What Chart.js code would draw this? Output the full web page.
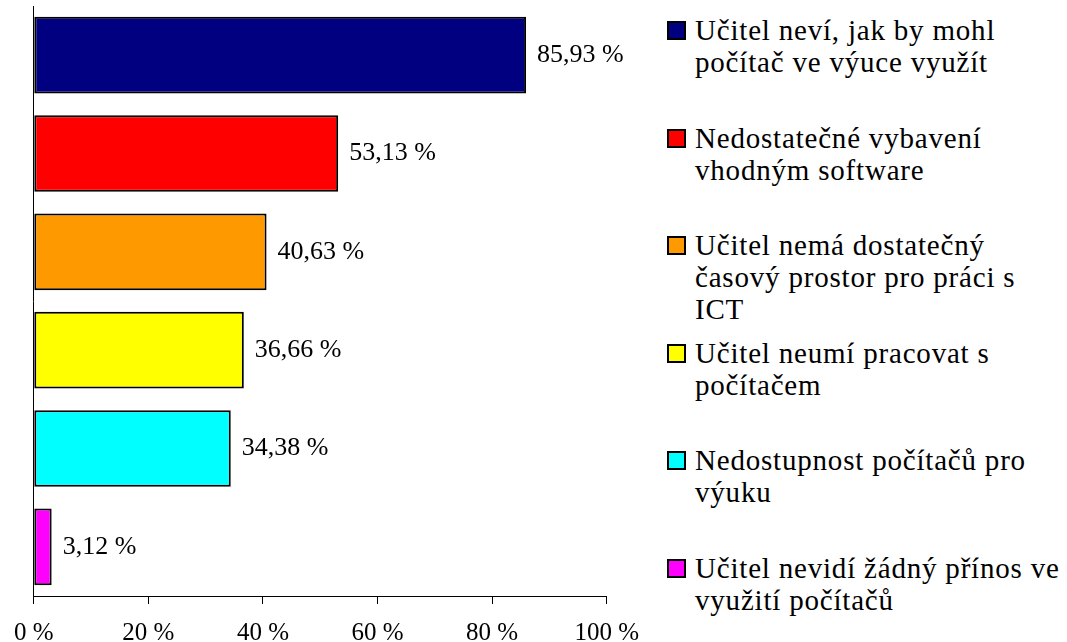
<!DOCTYPE html>
<html lang="cs">
  <head>
    <meta charset="UTF-8" />
    <title>Překážky využití ICT ve výuce</title>
    <script src="https://cdn.jsdelivr.net/npm/chart.js"></script>
    <style>
      html, body {
        margin: 0;
        padding: 0;
        background: #fff;
        font-family: 'Liberation Serif', 'Times New Roman', serif;
        color: #000;
      }
      .wrap {
        position: relative;
        width: 1067px;
        height: 642px;
        overflow: hidden;
      }
      .chart-box {
        position: absolute;
        left: 0;
        top: 0;
        width: 653px;
        height: 642px;
      }
      #legend {
        position: absolute;
        left: 667px;
        top: 14px;
        margin: 0;
        padding: 0;
        list-style: none;
      }
      #legend li {
        display: flex;
        align-items: flex-start;
        height: 107.6px;
        font-size: 29px;
        line-height: 32px;
        letter-spacing: 0.8px;
        white-space: nowrap;
      }
      #legend .swatch {
        box-sizing: border-box;
        width: 19px;
        height: 19px;
        border: 2px solid #000;
        margin-top: 7px;
        margin-right: 9px;
        flex: none;
      }
    </style>
  </head>
  <body>
    <div class="wrap">
      <div class="chart-box"><canvas id="reasons"></canvas></div>
      <ul id="legend"></ul>
    </div>

    <script>
      // categories (legend lines kept as in the original)
      const reasons = [
        ['Učitel neví, jak by mohl', 'počítač ve výuce využít'],
        ['Nedostatečné vybavení', 'vhodným software'],
        ['Učitel nemá dostatečný', 'časový prostor pro práci s', 'ICT'],
        ['Učitel neumí pracovat s', 'počítačem'],
        ['Nedostupnost počítačů pro', 'výuku'],
        ['Učitel nevidí žádný přínos ve', 'využití počítačů']
      ];
      const shares = [85.93, 53.13, 40.63, 36.66, 34.38, 3.12];
      const barColors = ['#000080', '#ff0000', '#ff9900', '#ffff00', '#00ffff', '#ff00ff'];
      const xTicks = [0, 20, 40, 60, 80, 100];

      const fmt = v => v.toFixed(2).replace('.', ',') + ' %';

      // value labels next to the bars
      const valueLabels = {
        id: 'valueLabels',
        afterDatasetsDraw(chart) {
          const ctx = chart.ctx;
          const meta = chart.getDatasetMeta(0);
          ctx.save();
          ctx.font = '26px "Liberation Serif", serif';
          ctx.fillStyle = '#000';
          ctx.textBaseline = 'middle';
          ctx.textAlign = 'left';
          meta.data.forEach((bar, i) => {
            ctx.fillText(fmt(shares[i]), bar.x + 11, bar.y);
          });
          ctx.restore();
        }
      };

      new Chart(document.getElementById('reasons'), {
        type: 'bar',
        data: {
          labels: reasons.map(r => r.join(' ')),
          datasets: [{
            data: shares,
            backgroundColor: barColors,
            borderColor: '#000',
            borderWidth: 2,
            borderSkipped: false,
            barPercentage: 0.78,
            categoryPercentage: 1
          }]
        },
        options: {
          indexAxis: 'y',
          responsive: true,
          maintainAspectRatio: false,
          animation: false,
          layout: { padding: { top: 6, right: 20, left: 0, bottom: 0 } },
          plugins: {
            legend: { display: false },
            tooltip: { enabled: false }
          },
          scales: {
            x: {
              min: 0,
              max: 100,
              afterBuildTicks: s => { s.ticks = xTicks.map(v => ({ value: v })); },
              afterFit: s => { s.height = 46; },
              grid: {
                drawOnChartArea: false,
                drawTicks: true,
                tickLength: 8,
                color: '#000'
              },
              border: { color: '#000', width: 1 },
              ticks: {
                color: '#000',
                padding: 14,
                maxRotation: 0,
                font: { family: 'Liberation Serif', size: 25 },
                callback: v => v + ' %'
              }
            },
            y: {
              afterFit: s => { s.width = 33; },
              grid: { display: false },
              border: { color: '#000', width: 1 },
              ticks: { display: false }
            }
          }
        },
        plugins: [valueLabels]
      });

      // legend on the right
      const legend = document.getElementById('legend');
      reasons.forEach((lines, i) => {
        const li = document.createElement('li');
        const sw = document.createElement('span');
        sw.className = 'swatch';
        sw.style.background = barColors[i];
        const txt = document.createElement('span');
        txt.innerHTML = lines.join('<br>');
        li.appendChild(sw);
        li.appendChild(txt);
        legend.appendChild(li);
      });
    </script>
  </body>
</html>
